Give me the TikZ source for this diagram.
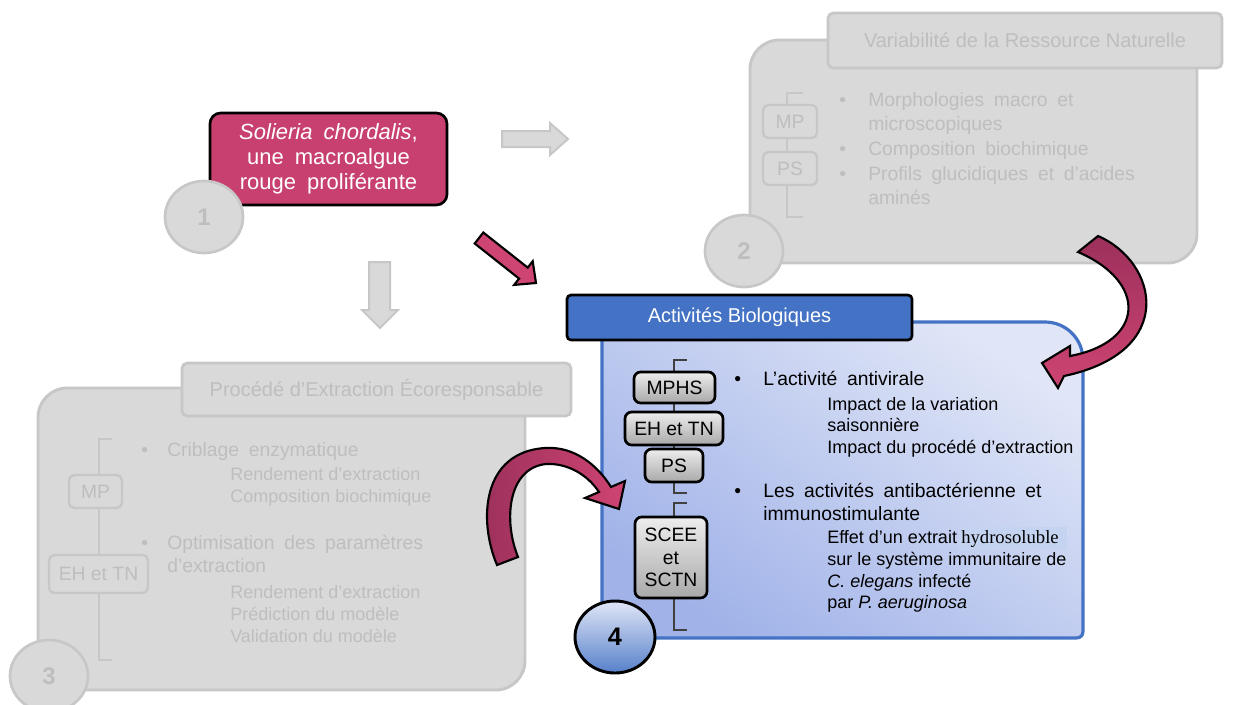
\documentclass[tikz,border=0pt]{standalone}
\usepackage{fontspec}
\setmainfont{Liberation Sans}
\newfontfamily\widefont[WordSpace=1.8]{Liberation Sans}
\newfontfamily\hlserif{Liberation Serif}
\usetikzlibrary{shapes.geometric}
\definecolor{greyfill}{RGB}{217,217,217}
\definecolor{greyline}{RGB}{199,199,199}
\definecolor{greytext}{RGB}{190,190,190}
\definecolor{algpink}{RGB}{199,64,111}
\definecolor{arrowpink}{RGB}{206,68,114}
\definecolor{arrowdark}{RGB}{156,48,92}
\definecolor{bluetab}{RGB}{68,114,196}
\definecolor{bluetop}{RGB}{224,230,247}
\definecolor{bluebot}{RGB}{160,178,232}
\definecolor{hlblue}{RGB}{196,212,240}
\newcommand{\mainsz}{\widefont\fontsize{14.5}{17}\selectfont}
\newcommand{\tagsz}{\fontsize{14.5}{17}\selectfont}
\newcommand{\subsz}{\fontsize{13.5}{16}\selectfont}
\newcommand{\titlesz}{\fontsize{15}{18}\selectfont}
\newcommand{\numsz}{\fontsize{18}{20}\selectfont}
\tikzset{
    boxsize/.style 2 args={minimum width=#1*0.75pt, minimum height=#2*0.75pt},
    greybody/.style={fill=greyfill, draw=greyline, line width=2.2pt, rounded corners=22pt},
    greytab/.style={fill=greyfill, draw=greyline, line width=2pt, rounded corners=4pt,
        text=greytext, font=\titlesz, inner sep=0pt},
    greytag/.style={fill=greyfill, draw=greyline, line width=1.8pt, rounded corners=4pt,
        text=greytext, font=\tagsz, inner sep=0pt},
    greynum/.style={ellipse, fill=greyfill, draw=greyline, line width=2pt, text=greytext,
        font=\numsz\bfseries, inner sep=0pt, boxsize={78}{72}},
    greytxt/.style={text=greytext, font=\mainsz, anchor=base west, inner sep=0pt},
    greysub/.style={text=greytext, font=\subsz, anchor=base west, inner sep=0pt},
    greyarrow/.style={fill=greyfill, draw=greyline, line width=1.5pt},
    algbox/.style={fill=algpink, draw=black, line width=2pt, rounded corners=8pt,
        text=white, font=\widefont\fontsize{16.5}{18.75}\selectfont, align=center, inner sep=0pt},
    bluebody/.style={draw=bluetab, line width=2.4pt,
        top color=bluetop, bottom color=bluebot, shading angle=-35},
    bluetabbox/.style={fill=bluetab, draw=black, line width=2pt, rounded corners=3pt,
        text=white, font=\titlesz, inner sep=0pt},
    bluetag/.style={top color=white!93!black, bottom color=white!66!black, draw=black,
        line width=2pt, rounded corners=5pt, font=\tagsz, align=center, inner sep=0pt},
    bluenum/.style={ellipse, top color=bluetop, bottom color=bluetab!90, draw=black,
        line width=2.2pt, font=\fontsize{19}{20}\selectfont\bfseries, inner sep=0pt,
        boxsize={80}{72}},
    bluetxt/.style={font=\mainsz, anchor=base west, inner sep=0pt},
    bluesub/.style={font=\subsz, anchor=base west, inner sep=0pt},
    bendarrow/.style={draw=black, line width=1.6pt, line join=miter},
}

\begin{document}
\begin{tikzpicture}[x=0.75pt, y=-0.75pt]
\useasboundingbox (0,0) rectangle (1237,704);

% 2 : Variabilite de la ressource naturelle
\draw[greybody] (750,40) rectangle (1197,263);
\draw[greyline, line width=1pt] (803,93) -- (787,93) -- (787,217) -- (803,217);
\node[greytag, boxsize={54}{33}] (mp2) at (790,121.5) {MP};
\node[greytag, boxsize={54}{33}] (ps2) at (790,168.5) {PS};
\node[greytab, boxsize={394}{55}] (tab2) at (1025,40.5) {Variabilité de la Ressource Naturelle};
\foreach \y/\n in {106/1, 155/2, 180/3}
    \node[greytxt] (vb\n) at (839,\y) {•};
\node[greytxt] (v1) at (868,106) {Morphologies macro et};
\node[greytxt] (v2) at (868,130) {microscopiques};
\node[greytxt] (v3) at (868,155) {Composition biochimique};
\node[greytxt] (v4) at (868,180) {Profils glucidiques et d’acides};
\node[greytxt] (v5) at (868,204) {aminés};
\node[greynum] (num2) at (744,251) {2};

% 3 : Procede d'extraction
\draw[greybody] (38,388) rectangle (525,690);
\draw[greyline, line width=1pt] (112,439) -- (99,439) -- (99,660) -- (112,660);
\node[greytag, boxsize={53}{33}] (mp3) at (95.5,491.5) {MP};
\node[greytag, boxsize={99}{38}] (eh3) at (98.5,574) {EH et TN};
\node[greytab, boxsize={389}{53}] (tab3) at (376.5,389.5) {Procédé d’Extraction Écoresponsable};
\foreach \y/\n in {456/1, 549/2}
    \node[greytxt] (pb\n) at (141,\y) {•};
\node[greytxt] (p1) at (167,456) {Criblage enzymatique};
\node[greysub] (p2) at (230,480) {Rendement d’extraction};
\node[greysub] (p3) at (230,502) {Composition biochimique};
\node[greytxt] (p4) at (167,549) {Optimisation des paramètres};
\node[greytxt] (p5) at (167,572) {d’extraction};
\node[greysub] (p6) at (230,598) {Rendement d’extraction};
\node[greysub] (p7) at (230,620) {Prédiction du modèle};
\node[greysub] (p8) at (230,642) {Validation du modèle};
\node[greynum] (num3) at (49,676) {3};

% 1 : la macroalgue
\node[algbox, boxsize={237}{92}] (algue) at (328.5,159)
    {\textit{Solieria chordalis},\\une macroalgue\\rouge proliférante};
\node[greynum] (num1) at (204,217) {1};

% fleches droites
\filldraw[greyarrow] (502,131) -- (550,131) -- (550,123) -- (568,139) -- (550,155)
    -- (550,147) -- (502,147) -- cycle;
\filldraw[greyarrow] (369,262) -- (390,262) -- (390,310) -- (398,310) -- (380,328)
    -- (362,310) -- (369,310) -- cycle;
\filldraw[bendarrow, fill=arrowpink] (483.3,232.5) -- (527.7,267.6) -- (532.7,261.3)
    -- (536,283) -- (514.1,284.9) -- (519.1,278.6) -- (474.7,243.5) -- cycle;

% 4 : Activites biologiques
\draw[bluebody] (602,600) -- (602,330) .. controls (602,325) and (605,322) .. (610,322)
    -- (1045,322) .. controls (1066,322) and (1083,339) .. (1083,360)
    -- (1083,631) .. controls (1083,635) and (1081,638) .. (1076,638)
    -- (640,638) .. controls (619,638) and (602,621) .. (602,600) -- cycle;
\draw[black!75, line width=0.8pt] (687,360) -- (674,360) -- (674,493) -- (687,493);
\draw[black!75, line width=0.8pt] (687,503) -- (674,503) -- (674,630) -- (687,630);
\node[bluetag, boxsize={81}{31}] (mphs) at (674.5,387.5) {MPHS};
\node[bluetag, boxsize={98}{33}] (ehtn) at (674,428.5) {EH et TN};
\node[bluetag, boxsize={58}{33}] (ps4) at (674,465.5) {PS};
\node[bluetag, boxsize={72}{81}] (scee) at (671,557.5) {SCEE\\et\\SCTN};
\node[bluetabbox, boxsize={345}{45}] (tab4) at (739.5,317.5) {Activités Biologiques};
\foreach \y/\n in {385/1, 497/2}
    \node[bluetxt] (ab\n) at (734,\y) {•};
\node[bluetxt] (a1) at (763,385) {L’activité antivirale};
\node[bluesub] (a2) at (827,410) {Impact de la variation};
\node[bluesub] (a3) at (827,431) {saisonnière};
\node[bluesub] (a4) at (827,453) {Impact du procédé d’extraction};
\node[bluetxt] (a5) at (763,497) {Les activités antibactérienne et};
\node[bluetxt] (a6) at (763,520) {immunostimulante};
\node[bluesub] (a7) at (827,543) {Effet d’un extrait};
\node[anchor=base west, fill=hlblue, inner xsep=1.5pt, inner ysep=2pt, text width=104*0.75pt,
    font=\hlserif\fontsize{14}{16}\selectfont] (hydro) at (959,543) {hydrosoluble};
\node[bluesub] (a8) at (827,565) {sur le système immunitaire de};
\node[bluesub] (a9) at (827,587) {\textit{C. elegans} infecté};
\node[bluesub] (a10) at (827,608) {par \textit{P. aeruginosa}};
\node[bluenum] (num4) at (615,637) {4};

% fleches courbes vers 4
\filldraw[bendarrow, top color=arrowdark, bottom color=arrowpink]
    (1078,252) -- (1098,236) .. controls (1158,262) and (1178,352) .. (1064,376)
    -- (1058,388) -- (1042,363) -- (1070,346) -- (1070,356)
    .. controls (1145,342) and (1148,282) .. (1078,252) -- cycle;
\filldraw[bendarrow, left color=arrowdark, right color=arrowpink]
    (497,565) .. controls (478,520) and (482,452) .. (545,448)
    .. controls (575,446) and (598,466) .. (611,487) -- (625,481) -- (619,509)
    -- (585,498) -- (599,492) .. controls (587,474) and (567,463) .. (546,464)
    .. controls (508,468) and (503,520) .. (518,557) -- cycle;

\end{tikzpicture}
\end{document}
